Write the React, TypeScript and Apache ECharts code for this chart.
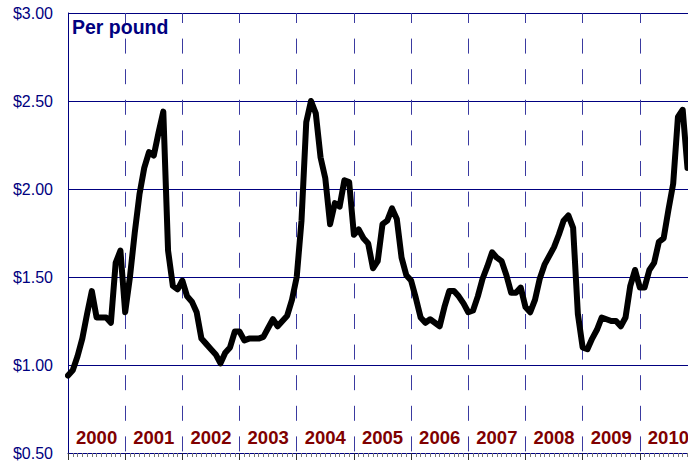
import React, { useEffect, useRef } from "react";
import * as echarts from "echarts";

const years = ["2000", "2001", "2002", "2003", "2004", "2005", "2006", "2007", "2008", "2009", "2010"];
const yTicks = [0.5, 1.0, 1.5, 2.0, 2.5, 3.0];

const price2000 = [0.94, 0.97, 1.05, 1.15, 1.29, 1.42, 1.27, 1.27, 1.27, 1.24, 1.58, 1.65];
const price2001 = [1.30, 1.50, 1.75, 1.97, 2.12, 2.21, 2.19, 2.32, 2.44, 1.65, 1.45, 1.43];
const price2002 = [1.48, 1.39, 1.36, 1.30, 1.15, 1.12, 1.09, 1.06, 1.01, 1.07, 1.10, 1.19];
const price2003 = [1.19, 1.14, 1.15, 1.15, 1.15, 1.16, 1.21, 1.26, 1.22, 1.25, 1.28, 1.37];
const price2004 = [1.50, 1.82, 2.38, 2.50, 2.43, 2.18, 2.06, 1.80, 1.92, 1.90, 2.05, 2.04];
const price2005 = [1.74, 1.77, 1.72, 1.69, 1.55, 1.59, 1.80, 1.82, 1.89, 1.83, 1.61, 1.51];
const price2006 = [1.48, 1.38, 1.27, 1.24, 1.26, 1.24, 1.22, 1.33, 1.42, 1.42, 1.39, 1.35];
const price2007 = [1.30, 1.31, 1.39, 1.49, 1.56, 1.64, 1.61, 1.59, 1.51, 1.41, 1.41, 1.44];
const price2008 = [1.33, 1.30, 1.37, 1.49, 1.57, 1.62, 1.67, 1.74, 1.82, 1.85, 1.78, 1.29];
const price2009 = [1.10, 1.09, 1.15, 1.20, 1.27, 1.26, 1.25, 1.25, 1.22, 1.27, 1.45, 1.54];
const price2010 = [1.44, 1.44, 1.54, 1.58, 1.70, 1.72, 1.88, 2.03, 2.41, 2.45, 2.12];

const monthlyPrices = [
  ...price2000, ...price2001, ...price2002, ...price2003, ...price2004, ...price2005,
  ...price2006, ...price2007, ...price2008, ...price2009, ...price2010,
];

const NAVY = "#000080";
const FONT = "Arial, 'Liberation Sans', sans-serif";

export default function App() {
  const ref = useRef<HTMLDivElement>(null);
  useEffect(() => {
    if (!ref.current) return;
    const chart = echarts.init(ref.current, null, { renderer: "svg" });
    chart.setOption({
      animation: false,
      backgroundColor: "#ffffff",
      title: {
        text: "Per pound",
        left: 72,
        top: 17,
        padding: 0,
        textStyle: { color: NAVY, fontSize: 19.5, fontWeight: "bold", fontFamily: FONT },
      },
      grid: { left: 68, top: 13, width: 629, height: 441 },
      xAxis: [
        {
          type: "value",
          min: 0,
          max: years.length * 12,
          interval: 12,
          axisLine: { show: true, lineStyle: { color: NAVY, width: 1 } },
          axisTick: { show: true, length: 7, lineStyle: { color: "#333333", width: 1 } },
          minorTick: { show: true, splitNumber: 12, length: 4, lineStyle: { color: "#777777", width: 1 } },
          axisLabel: { show: false },
          splitLine: {
            show: true,
            lineStyle: { color: "#3a3aa0", width: 1, type: [15, 15.6], dashOffset: 5 },
          },
        },
        {
          type: "category",
          data: years,
          position: "bottom",
          boundaryGap: true,
          axisLine: { show: false },
          axisTick: { show: false },
          splitLine: { show: false },
          axisLabel: {
            inside: true,
            margin: 6,
            color: "#800000",
            fontSize: 18.5,
            fontWeight: "bold",
            fontFamily: FONT,
            interval: 0,
          },
        },
      ],
      yAxis: {
        type: "value",
        min: yTicks[0],
        max: yTicks[yTicks.length - 1],
        interval: 0.5,
        axisLine: { show: true, lineStyle: { color: NAVY, width: 1 } },
        axisTick: { show: false },
        axisLabel: {
          color: NAVY,
          fontSize: 16,
          fontFamily: FONT,
          margin: 15,
          formatter: (v: number) => "$" + v.toFixed(2),
        },
        splitLine: { show: true, lineStyle: { color: NAVY, width: 1 } },
      },
      series: [
        {
          type: "line",
          xAxisIndex: 0,
          data: monthlyPrices.map((v, i) => [i, v]),
          showSymbol: false,
          symbol: "none",
          lineStyle: { color: "#000000", width: 6, cap: "round", join: "round" },
          clip: false,
        },
      ],
    });
    return () => chart.dispose();
  }, []);
  return (
    <div style={{ position: "fixed", left: 0, top: 0, width: 688, height: 461, overflow: "hidden", background: "#fff" }}>
      <div ref={ref} style={{ width: 720, height: 461 }} />
    </div>
  );
}
